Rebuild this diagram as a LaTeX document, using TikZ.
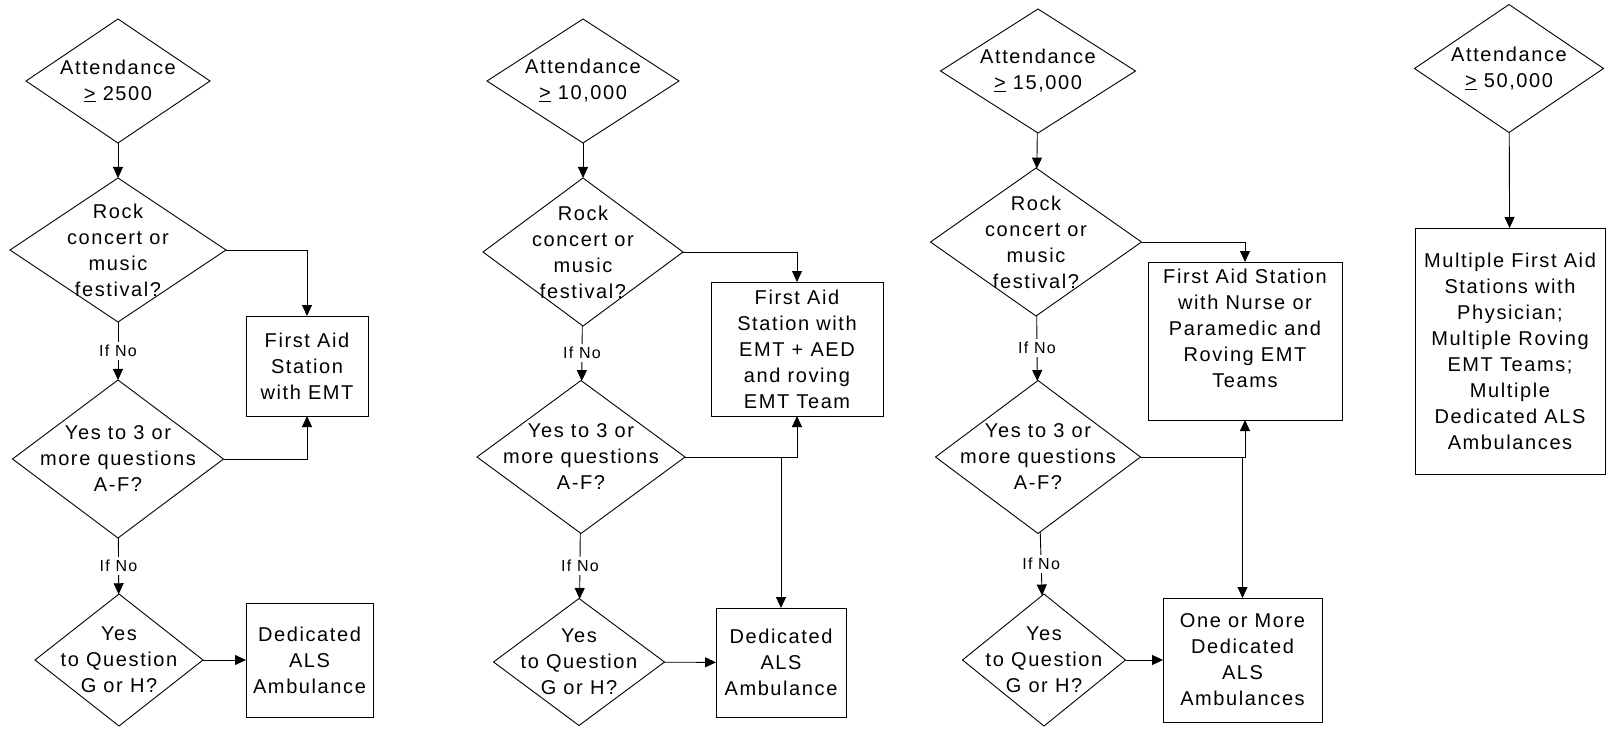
\documentclass[tikz,border=0pt]{standalone}
\usepackage{fontspec}
\setmainfont{Liberation Sans}[LetterSpace=8]
\usetikzlibrary{shapes.geometric, arrows.meta}

\begin{document}
\begin{tikzpicture}[x=1pt, y=-1pt, line width=0.9pt,
	dec/.style={diamond, draw, inner sep=0pt, outer sep=0pt},
	act/.style={rectangle, draw, inner sep=0pt, outer sep=0pt, align=center, font=\fontsize{20}{26}\selectfont},
	txt/.style={align=center, inner sep=0pt, font=\fontsize{20}{26}\selectfont},
	ifno/.style={fill=white, inner sep=3pt, font=\fontsize{16}{18}\selectfont},
	flow/.style={-{Triangle[length=11pt, width=10pt]}}]
	\useasboundingbox (0,0) rectangle (1608,728);

	% 2500
	\node[dec, minimum width=184pt, minimum height=124pt] (att1) at (118,81) {};
	\node[txt] (att1t) at (att1) {Attendance\\\underline{>} 2500};
	\node[dec, minimum width=216pt, minimum height=144pt] (rock1) at (118,250) {};
	\node[txt] (rock1t) at (rock1) {Rock\\concert or\\music\\festival?};
	\node[dec, minimum width=211pt, minimum height=158pt] (yes1) at (118,459) {};
	\node[txt] (yes1t) at (yes1) {Yes to 3 or\\more questions\\A-F?};
	\node[dec, minimum width=168pt, minimum height=132pt] (gh1) at (119,660) {};
	\node[txt] (gh1t) at (gh1) {Yes\\to Question\\G or H?};
	\node[act, minimum width=122pt, minimum height=100pt] (fa1) at (307,366) {First Aid\\Station\\with EMT};
	\node[act, minimum width=127pt, minimum height=114pt] (als1) at (309.5,660) {Dedicated\\ALS\\Ambulance};

	\draw[flow] (att1) -- (rock1);
	\draw[flow] (rock1.east) -| (fa1.north);
	\draw[flow] (rock1) -- node[ifno] (no1a) {If No} (yes1);
	\draw[flow] (yes1.east) -| (fa1.south);
	\draw[flow] (yes1) -- node[ifno] (no1b) {If No} (gh1);
	\draw[flow] (gh1) -- (als1);

	% 10,000
	\node[dec, minimum width=192pt, minimum height=124pt] (att2) at (583,81) {};
	\node[txt] (att2t) at (att2) {Attendance\\\underline{>} 10,000};
	\node[dec, minimum width=200pt, minimum height=148pt] (rock2) at (583,252) {};
	\node[txt] (rock2t) at (rock2) {Rock\\concert or\\music\\festival?};
	\node[dec, minimum width=208pt, minimum height=153pt] (yes2) at (581,457) {};
	\node[txt] (yes2t) at (yes2) {Yes to 3 or\\more questions\\A-F?};
	\node[dec, minimum width=171pt, minimum height=127pt] (gh2) at (579,662) {};
	\node[txt] (gh2t) at (gh2) {Yes\\to Question\\G or H?};
	\node[act, minimum width=172pt, minimum height=134pt] (fa2) at (797,349) {First Aid\\Station with\\EMT + AED\\and roving\\EMT Team};
	\node[act, minimum width=130pt, minimum height=109pt] (als2) at (781,662.5) {Dedicated\\ALS\\Ambulance};

	\draw[flow] (att2) -- (rock2);
	\draw[flow] (rock2.east) -| (fa2.north);
	\draw[flow] (rock2) -- node[ifno] (no2a) {If No} (yes2);
	\draw[flow] (yes2.east) -| (fa2.south);
	\draw[flow] (yes2.east) -| (als2.north);
	\draw[flow] (yes2) -- node[ifno] (no2b) {If No} (gh2);
	\draw[flow] (gh2) -- (als2);

	% 15,000
	\node[dec, minimum width=195pt, minimum height=124pt] (att3) at (1038,71) {};
	\node[txt] (att3t) at (att3) {Attendance\\\underline{>} 15,000};
	\node[dec, minimum width=211pt, minimum height=148pt] (rock3) at (1036,242) {};
	\node[txt] (rock3t) at (rock3) {Rock\\concert or\\music\\festival?};
	\node[dec, minimum width=205pt, minimum height=153pt] (yes3) at (1038,457) {};
	\node[txt] (yes3t) at (yes3) {Yes to 3 or\\more questions\\A-F?};
	\node[dec, minimum width=163pt, minimum height=132pt] (gh3) at (1044,660) {};
	\node[txt] (gh3t) at (gh3) {Yes\\to Question\\G or H?};
	\node[act, minimum width=194pt, minimum height=158pt] (fa3) at (1245,341) {First Aid Station\\with Nurse or\\Paramedic and\\Roving EMT\\Teams\\\mbox{}};
	\node[act, minimum width=159pt, minimum height=124pt] (als3) at (1242.5,660) {One or More\\Dedicated\\ALS\\Ambulances};

	\draw[flow] (att3) -- (rock3);
	\draw[flow] (rock3.east) -| (fa3.north);
	\draw[flow] (rock3) -- node[ifno] (no3a) {If No} (yes3);
	\draw[flow] (yes3.east) -| (fa3.south);
	\draw[flow] (yes3.east) -| (als3.north);
	\draw[flow] (yes3) -- node[ifno] (no3b) {If No} (gh3);
	\draw[flow] (gh3) -- (als3);

	% 50,000
	\node[dec, minimum width=189pt, minimum height=128pt] (att4) at (1509,68.5) {};
	\node[txt] (att4t) at (att4) {Attendance\\\underline{>} 50,000};
	\node[act, minimum width=190pt, minimum height=246pt] (multi4) at (1510,351) {Multiple First Aid\\Stations with\\Physician;\\Multiple Roving\\EMT Teams;\\Multiple\\Dedicated ALS\\Ambulances};

	\draw[flow] (att4) -- (multi4);

\end{tikzpicture}
\end{document}
